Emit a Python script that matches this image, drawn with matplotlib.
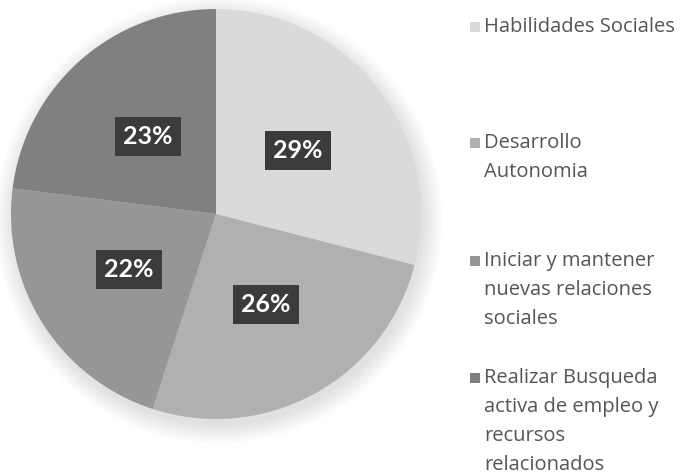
import matplotlib
matplotlib.use("Agg")
import matplotlib.pyplot as plt
from matplotlib.patches import Circle, Rectangle
import numpy as np

categories = ["Habilidades Sociales", "Desarrollo\nAutonomia",
              "Iniciar y mantener\nnuevas relaciones\nsociales",
              "Realizar Busqueda\nactiva de empleo y\nrecursos\nrelacionados"]
values = [29, 26, 22, 23]
colors = ["#dadada", "#b0b0b0", "#969696", "#808080"]

W, H = 683, 475
fig = plt.figure(figsize=(W / 100, H / 100), dpi=100)
fig.patch.set_facecolor("white")

cx, cy, R = 216, 214, 205
ax = fig.add_axes([(cx - R) / W, (H - cy - R) / H, 2 * R / W, 2 * R / H])
ax.axis("off")

wedges, texts, autotexts = ax.pie(
    values, colors=colors, startangle=90, counterclock=False, radius=1,
    autopct=lambda p: f"{p:.0f}%", pctdistance=0.505,
    wedgeprops=dict(linewidth=0), textprops=dict(color="white"))
for w in wedges:
    w.set_zorder(2)
for t in autotexts:
    t.set_fontfamily("Lato")
    t.set_fontweight("bold")
    t.set_fontsize(18)
    t.set_zorder(5)
    t.set_bbox(dict(boxstyle="square,pad=0.33", facecolor="#3b3b3b",
                    edgecolor="none"))

# soft shadow
for i in range(10):
    ax.add_patch(Circle((0.015, -0.03), 1.0 + i * 0.01, color="black",
                        alpha=0.012, lw=0, zorder=0, clip_on=False))

ax.set_xlim(-1, 1)
ax.set_ylim(-1, 1)
ax.set_aspect("equal")

# legend (manual placement)
starts = [27, 143, 261, 378]
line_h = 29
for cat, col, y in zip(categories, colors, starts):
    fig.patches.append(Rectangle((470 / W, (H - y - 5) / H), 10 / W, 10 / H,
                                 transform=fig.transFigure, facecolor=col,
                                 edgecolor="none"))
    for k, line in enumerate(cat.split("\n")):
        fig.text(484 / W, (H - y - k * line_h) / H, line, ha="left",
                 va="center", fontsize=14.5, color="#555555",
                 fontfamily="Open Sans")

fig.savefig("out.png", dpi=100, facecolor="white")
